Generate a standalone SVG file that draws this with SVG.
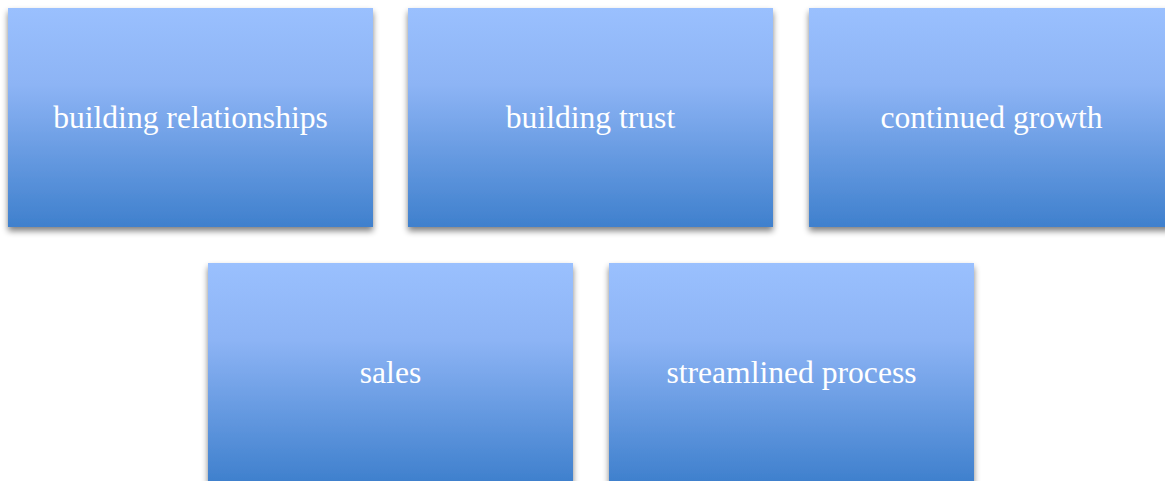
<svg xmlns="http://www.w3.org/2000/svg" width="1165" height="481" viewBox="0 0 1165 481">
  <defs>
    <linearGradient id="fill" x1="0" y1="0" x2="0" y2="1">
      <stop offset="0" stop-color="#9ac0fe"/>
      <stop offset="0.35" stop-color="#8db4f5"/>
      <stop offset="1" stop-color="#3f80cd"/>
    </linearGradient>
    <filter id="shadow" x="-10%" y="-10%" width="120%" height="125%">
      <feGaussianBlur in="SourceAlpha" stdDeviation="3"/>
      <feOffset dx="0" dy="4" result="b"/>
      <feComponentTransfer><feFuncA type="linear" slope="0.5"/></feComponentTransfer>
      <feMerge><feMergeNode/><feMergeNode in="SourceGraphic"/></feMerge>
    </filter>
  </defs>
  <style>
    .box { fill: url(#fill); filter: url(#shadow); }
    .label { font-family: "Liberation Serif", "DejaVu Serif", serif; font-size: 31.6px; fill: #ffffff; text-anchor: middle; dominant-baseline: central; }
  </style>
  <rect width="1165" height="481" fill="#ffffff"/>
  <g id="connectors"/>
  <g id="node-building-relationships">
    <rect class="box" x="8" y="8" width="365" height="219"/>
    <text class="label" x="190.5" y="117">building relationships</text>
  </g>
  <g id="node-building-trust">
    <rect class="box" x="408" y="8" width="365" height="219"/>
    <text class="label" x="590.5" y="117">building trust</text>
  </g>
  <g id="node-continued-growth">
    <rect class="box" x="809" y="8" width="365" height="219"/>
    <text class="label" x="991.5" y="117">continued growth</text>
  </g>
  <g id="node-sales">
    <rect class="box" x="208" y="263" width="365" height="219"/>
    <text class="label" x="390.5" y="372">sales</text>
  </g>
  <g id="node-streamlined-process">
    <rect class="box" x="609" y="263" width="365" height="219"/>
    <text class="label" x="791.5" y="372">streamlined process</text>
  </g>
</svg>
